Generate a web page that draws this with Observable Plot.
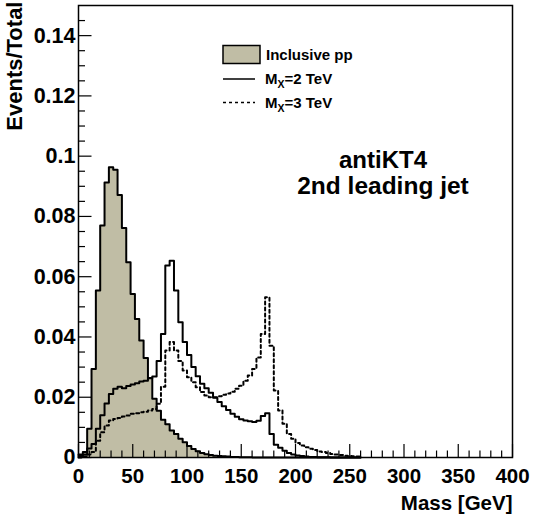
<!DOCTYPE html>
<html>
<head>
<meta charset="utf-8">
<script src="https://cdn.jsdelivr.net/npm/d3@7"></script>
<script src="https://cdn.jsdelivr.net/npm/@observablehq/plot@0.6"></script>
<style>
  html, body { margin: 0; padding: 0; background: #ffffff; }
  #chart { width: 533px; height: 521px; }
</style>
</head>
<body>
<div id="chart"></div>
<script>
// Lower edges of the 4 GeV mass bins (GeV)
const binLow = [0,4,8,12,16,20,24,28,32,36,40,44,48,52,56,60,64,68,72,76,80,84,88,92,96,100,
  104,108,112,116,120,124,128,132,136,140,144,148,152,156,160,164,168,172,176,180,184,188,192,196,
  200,204,208,212,216,220,224,228,232,236,240,244,248,252,256];
const binWidth = 4;

// Inclusive pp (filled)
const inclusivePP = [0.001,0.0018,0.0095,0.0294,0.0554,0.077,0.0913,0.0963,0.0955,0.0871,0.0762,0.0648,
  0.0543,0.046,0.0388,0.033,0.0264,0.0195,0.0155,0.0125,0.011,0.009,0.0078,0.0062,0.0051,0.0038,0.0028,
  0.0021,0.0015,0.0011,0.0008,0.0006,0.0005,0.0004,0.0003,0.0002,0.0002,0.0001,0.0001,0.0001,0,0,0,0,0,
  0,0,0,0,0,0,0,0,0,0,0,0,0,0,0,0,0,0,0,0];

// M_X = 2 TeV (solid)
const mx2TeV = [0.0005,0.001,0.003,0.0045,0.0095,0.014,0.0179,0.0211,0.0228,0.0235,0.023,0.0237,0.0242,
  0.0246,0.0252,0.0255,0.0263,0.0269,0.032,0.041,0.0637,0.0653,0.0554,0.0449,0.0383,0.034,0.030,0.027,
  0.0245,0.023,0.0215,0.0198,0.0184,0.017,0.0158,0.0145,0.0135,0.0127,0.0123,0.012,0.0118,0.0122,0.0138,
  0.0147,0.0078,0.0042,0.0032,0.0022,0.0015,0.001,0.0007,0.0005,0.0003,0.0002,0.0002,0.0001,0.0001,
  0.0001,0,0,0,0,0,0,0];

// M_X = 3 TeV (dashed)
const mx3TeV = [0,0.0003,0.001,0.0018,0.0056,0.0084,0.0106,0.0123,0.0128,0.0131,0.0136,0.0139,0.0145,
  0.0147,0.015,0.0152,0.0156,0.0161,0.0178,0.0235,0.0355,0.0383,0.0355,0.032,0.0289,0.0266,0.025,0.0233,
  0.0217,0.0206,0.02,0.02,0.0203,0.0208,0.0212,0.0218,0.0228,0.0238,0.0255,0.0272,0.0294,0.0332,0.041,
  0.0532,0.0371,0.0222,0.0156,0.0112,0.0078,0.0062,0.0048,0.004,0.0034,0.0029,0.0025,0.002,0.0018,0.0015,
  0.0012,0.001,0.0008,0.0006,0.0005,0.0004,0.0003];

// Axis ticks
const xTicks = [0,50,100,150,200,250,300,350,400];
const xMinorTicks = [10,20,30,40,60,70,80,90,110,120,130,140,160,170,180,190,210,220,230,240,
  260,270,280,290,310,320,330,340,360,370,380,390];
const yTicks = [0,0.02,0.04,0.06,0.08,0.1,0.12,0.14];
const yMinorTicks = [0.005,0.01,0.015,0.025,0.03,0.035,0.045,0.05,0.055,0.065,0.07,0.075,0.085,0.09,
  0.095,0.105,0.11,0.115,0.125,0.13,0.135,0.145];

const fillColor = "#c0bda5";
const W = 533, H = 521;
const mL = 78, mR = 21, mT = 5, mB = 64;
const innerW = W - mL - mR, innerH = H - mT - mB;
const font = "'Liberation Sans', Arial, Helvetica, sans-serif";

function steps(vals) {
  const pts = binLow.map((x, i) => ({x, y: vals[i]}));
  pts.push({x: binLow[binLow.length - 1] + binWidth, y: vals[vals.length - 1]});
  return pts;
}

const plot = Plot.plot({
  width: W,
  height: H,
  marginLeft: mL,
  marginRight: mR,
  marginTop: mT,
  marginBottom: mB,
  style: {fontFamily: font, fontWeight: "bold", fontSize: "20.5px", background: "#ffffff", color: "#000"},
  x: {domain: [0, 400], label: null},
  y: {domain: [0, 0.15], label: null},
  marks: [
    Plot.areaY(steps(inclusivePP), {x: "x", y: "y", curve: "step-after", fill: fillColor}),
    Plot.line(steps(inclusivePP), {x: "x", y: "y", curve: "step-after", stroke: "#000", strokeWidth: 2}),
    Plot.line(steps(mx2TeV), {x: "x", y: "y", curve: "step-after", stroke: "#000", strokeWidth: 2}),
    Plot.line(steps(mx3TeV), {x: "x", y: "y", curve: "step-after", stroke: "#000", strokeWidth: 2, strokeDasharray: "3,3"}),
    // inward ticks
    Plot.tickX(xTicks, {x: d => d, insetTop: innerH - 13, stroke: "#000", strokeWidth: 1.2}),
    Plot.tickX(xMinorTicks, {x: d => d, insetTop: innerH - 6.5, stroke: "#000", strokeWidth: 1.2}),
    Plot.tickY(yTicks, {y: d => d, insetRight: innerW - 13.5, stroke: "#000", strokeWidth: 1.2}),
    Plot.tickY(yMinorTicks, {y: d => d, insetRight: innerW - 7, stroke: "#000", strokeWidth: 1.2}),
    Plot.axisX({ticks: xTicks, tickSize: 0, tickPadding: 11, tickFormat: d => String(d), label: null}),
    Plot.axisY({ticks: yTicks, tickSize: 0, tickPadding: 3, tickFormat: d => String(d), label: null, fontSize: 21.5}),
    Plot.frame({stroke: "#000", strokeWidth: 1.5}),
    // axis titles
    Plot.text(["Mass [GeV]"], {frameAnchor: "bottom-right", textAnchor: "end", lineAnchor: "bottom", dy: 52, fontSize: 20.5, fontWeight: "bold"}),
    Plot.text(["Events/Total"], {frameAnchor: "top-left", textAnchor: "end", lineAnchor: "bottom", rotate: -90, dx: -57, dy: -4, fontSize: 22, fontWeight: "bold"}),
    // annotation
    Plot.text(["antiKT4"], {frameAnchor: "top-left", textAnchor: "middle", lineAnchor: "bottom", dx: 382.5 - mL, dy: 167 - mT, fontSize: 24, fontWeight: "bold"}),
    Plot.text(["2nd leading jet"], {frameAnchor: "top-left", textAnchor: "middle", lineAnchor: "bottom", dx: 382.5 - mL, dy: 193 - mT, fontSize: 24.5, fontWeight: "bold"})
  ]
});

// Legend
const svg = d3.select(plot);
const lg = svg.append("g")
  .attr("font-family", font)
  .attr("font-weight", "bold")
  .attr("font-size", 15)
  .attr("text-anchor", "start")
  .attr("fill", "#000");
lg.append("rect").attr("x", 223).attr("y", 45.5).attr("width", 37).attr("height", 18)
  .attr("fill", fillColor).attr("stroke", "#000").attr("stroke-width", 1.5);
lg.append("text").attr("x", 266).attr("y", 59.5).text("Inclusive pp");
lg.append("line").attr("x1", 223).attr("x2", 255).attr("y1", 79).attr("y2", 79)
  .attr("stroke", "#000").attr("stroke-width", 1.5);
const t2 = lg.append("text").attr("x", 265).attr("y", 84);
t2.append("tspan").text("M");
t2.append("tspan").attr("font-size", 10.5).attr("dy", 4).text("X");
t2.append("tspan").attr("dy", -4).text("=2 TeV");
lg.append("line").attr("x1", 223).attr("x2", 255).attr("y1", 102.5).attr("y2", 102.5)
  .attr("stroke", "#000").attr("stroke-width", 1.5).attr("stroke-dasharray", "3,3");
const t3 = lg.append("text").attr("x", 265).attr("y", 107.5);
t3.append("tspan").text("M");
t3.append("tspan").attr("font-size", 10.5).attr("dy", 4).text("X");
t3.append("tspan").attr("dy", -4).text("=3 TeV");

document.getElementById("chart").appendChild(plot);
</script>
</body>
</html>
